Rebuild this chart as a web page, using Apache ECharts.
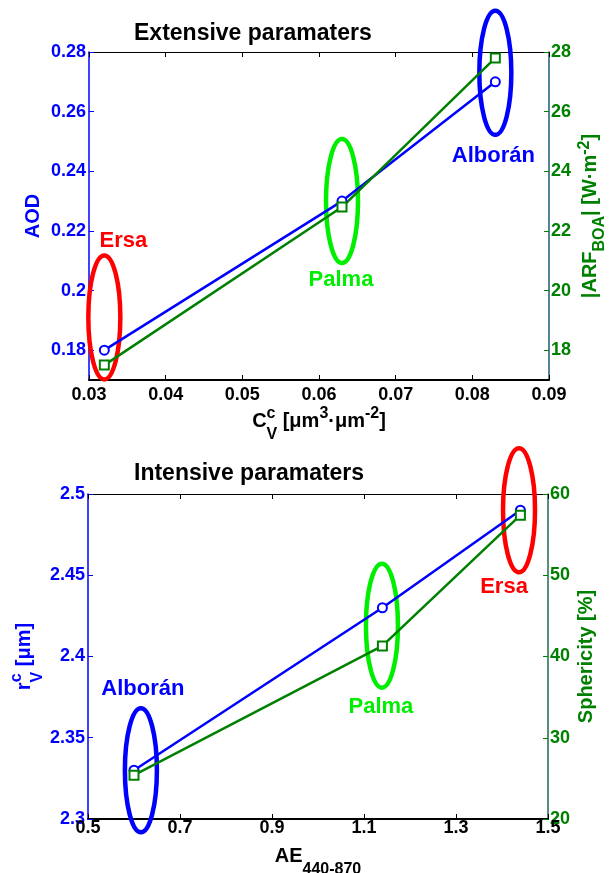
<!DOCTYPE html>
<html>
<head>
<meta charset="utf-8">
<script src="https://cdn.jsdelivr.net/npm/echarts@6/dist/echarts.min.js"></script>
<style>
  html, body { margin: 0; padding: 0; background: #fff; }
  #chart { width: 609px; height: 873px; }
</style>
</head>
<body>
<div id="chart"></div>
<script>
// extensive parameters (top panel)
var extCv = [0.032, 0.063, 0.083];
var extAod = [0.18, 0.23, 0.27];
var extArf = [17.5, 22.8, 27.8];
var extSites = ['Ersa', 'Palma', 'Alborán'];
var extRingX = [0.032, 0.063, 0.083];
var extRingY = [0.191, 0.23, 0.273];
var extXTicks = [0.03, 0.04, 0.05, 0.06, 0.07, 0.08, 0.09];
var extAodTicks = [0.18, 0.2, 0.22, 0.24, 0.26, 0.28];
var extArfTicks = [18, 20, 22, 24, 26, 28];

// intensive parameters (bottom panel)
var intAe = [0.6, 1.14, 1.44];
var intRv = [2.33, 2.43, 2.49];
var intSph = [25.4, 41.3, 57.4];
var intSites = ['Alborán', 'Palma', 'Ersa'];
var intRingX = [0.615, 1.139, 1.437];
var intRingY = [2.33, 2.419, 2.49];
var intXTicks = [0.5, 0.7, 0.9, 1.1, 1.3, 1.5];
var intRvTicks = [2.3, 2.35, 2.4, 2.45, 2.5];
var intSphTicks = [20, 30, 40, 50, 60];

var FONT = '"Liberation Sans", Arial, sans-serif';
var siteColor = { 'Ersa': '#ff0000', 'Palma': '#00ee00', 'Alborán': '#0000ff' };
// label offset from ring centre, px
var extLabelOff = [[19, -76], [-1, 79], [-2, 83]];
var intLabelOff = [[2, -81], [-1, 81], [-15, 77]];

var rich = {
  m: { fontSize: 20, fontWeight: 'bold', fontFamily: FONT, lineHeight: 28, verticalAlign: 'middle' },
  sup: { fontSize: 16, fontWeight: 'bold', fontFamily: FONT, verticalAlign: 'middle', padding: [0, 0, 14, 0] },
  sub: { fontSize: 16, fontWeight: 'bold', fontFamily: FONT, verticalAlign: 'middle', padding: [28, 0, 0, 0] },
  subk: { fontSize: 16, fontWeight: 'bold', fontFamily: FONT, verticalAlign: 'middle', padding: [28, 0, 0, -9] },
  supr: { fontSize: 16, fontWeight: 'bold', fontFamily: FONT, verticalAlign: 'middle', padding: [0, 0, 10, 0] },
  subr: { fontSize: 16, fontWeight: 'bold', fontFamily: FONT, verticalAlign: 'middle', padding: [20, 0, 0, 0] }
};

function valAxis(opt) {
  var color = opt.color;
  return {
    type: 'value',
    gridIndex: opt.grid,
    position: opt.position,
    min: opt.min,
    max: opt.max,
    name: opt.name,
    nameLocation: 'middle',
    nameGap: opt.nameGap,
    nameRotate: opt.nameRotate,
    nameMoveOverlap: false,
    nameTextStyle: { color: opt.nameColor || color, fontSize: 20, fontWeight: 'bold', fontFamily: FONT, rich: rich },
    axisLine: { show: true, onZero: false, lineStyle: { color: opt.lineColor || color, width: opt.lineWidth || 1.5 } },
    axisTick: { show: true, inside: true, length: 5, customValues: opt.ticks, lineStyle: { color: opt.tickColor || color, width: 1 } },
    axisLabel: {
      show: opt.labels !== false,
      customValues: opt.ticks,
      margin: opt.margin,
      color: color,
      fontSize: 18,
      fontWeight: 'bold',
      fontFamily: FONT
    },
    splitLine: { show: false }
  };
}

function ringSeries(xi, yi, xs, ys, names, offs) {
  return {
    type: 'custom',
    xAxisIndex: xi,
    yAxisIndex: yi,
    clip: false,
    z: 1,
    silent: true,
    data: xs.map(function (x, i) { return [x, ys[i], i]; }),
    renderItem: function (params, api) {
      var i = api.value(2),
        p = api.coord([api.value(0), api.value(1)]),
        c = siteColor[names[i]];
      return {
        type: 'group',
        children: [{
          type: 'ellipse',
          shape: { cx: p[0], cy: p[1], rx: 16, ry: 62 },
          style: { fill: 'none', stroke: c, lineWidth: 4.5 }
        }, {
          type: 'text',
          x: p[0] + offs[i][0],
          y: p[1] + offs[i][1],
          style: {
            text: names[i], fill: c, fontSize: 22, fontWeight: 'bold', fontFamily: FONT,
            align: 'center', verticalAlign: 'middle'
          }
        }]
      };
    }
  };
}

function lineSeries(xi, yi, xs, ys, color, symbol) {
  return {
    type: 'line',
    xAxisIndex: xi,
    yAxisIndex: yi,
    z: 3,
    data: xs.map(function (x, i) { return [x, ys[i]]; }),
    symbol: symbol,
    symbolSize: 9,
    lineStyle: { color: color, width: 2.5 },
    itemStyle: { color: color, borderColor: color, borderWidth: 2 },
    silent: true
  };
}

var myChart = echarts.init(document.getElementById('chart'), null, { renderer: 'canvas' });

var option = {
  backgroundColor: '#fff',
  animation: false,
  title: [{
    text: 'Extensive paramaters',
    left: 134, top: 22, padding: 0,
    textStyle: { fontSize: 23, fontWeight: 'bold', fontFamily: FONT, color: '#000' }
  }, {
    text: 'Intensive paramaters',
    left: 134, top: 462, padding: 0,
    textStyle: { fontSize: 23, fontWeight: 'bold', fontFamily: FONT, color: '#000' }
  }],
  grid: [
    { left: 89, right: 60, top: 52, height: 328, outerBoundsMode: 'none', containLabel: false },
    { left: 88, right: 61, top: 494, height: 325, outerBoundsMode: 'none', containLabel: false }
  ],
  xAxis: [
    valAxis({
      grid: 0, position: 'bottom', min: 0.03, max: 0.09, ticks: extXTicks, color: '#000', lineWidth: 2,
      margin: 6, nameGap: 19,
      name: '{m|C}{sup|c}{subk|V}{m| [μm}{sup|3}{m|·μm}{sup|-2}{m|]}'
    }),
    valAxis({ grid: 0, position: 'top', min: 0.03, max: 0.09, ticks: extXTicks, color: '#000', lineWidth: 1, labels: false }),
    valAxis({
      grid: 1, position: 'bottom', min: 0.5, max: 1.5, ticks: intXTicks, color: '#000', lineWidth: 2,
      margin: 0, nameGap: 15,
      name: '{m|AE}{sub|440-870}'
    }),
    valAxis({ grid: 1, position: 'top', min: 0.5, max: 1.5, ticks: intXTicks, color: '#000', lineWidth: 1, labels: false })
  ],
  yAxis: [
    valAxis({
      grid: 0, position: 'left', min: 0.17, max: 0.28, ticks: extAodTicks, color: '#0000ff',
      margin: 3, nameGap: 46, nameRotate: 90, name: 'AOD'
    }),
    valAxis({
      grid: 0, position: 'right', min: 17, max: 28, ticks: extArfTicks, color: '#008000', lineColor: '#1d5a78',
      margin: 2, nameGap: 23, nameRotate: 90,
      name: '{m||ARF}{subr|BOA}{m|| [W·m}{supr|-2}{m|]}'
    }),
    valAxis({
      grid: 1, position: 'left', min: 2.3, max: 2.5, ticks: intRvTicks, color: '#0000ff',
      margin: 3, nameGap: 42, nameRotate: 90,
      name: '{m|r}{sup|c}{subk|V}{m| [μm]}'
    }),
    valAxis({
      grid: 1, position: 'right', min: 20, max: 60, ticks: intSphTicks, color: '#008000', lineColor: '#1e6b4a',
      margin: 2, nameGap: 28, nameRotate: 90, name: 'Sphericity [%]'
    })
  ],
  series: [
    ringSeries(0, 0, extRingX, extRingY, extSites, extLabelOff),
    lineSeries(0, 0, extCv, extAod, '#0000ff', 'emptyCircle'),
    lineSeries(0, 1, extCv, extArf, '#008000', 'emptyRect'),
    ringSeries(2, 2, intRingX, intRingY, intSites, intLabelOff),
    lineSeries(2, 2, intAe, intRv, '#0000ff', 'emptyCircle'),
    lineSeries(2, 3, intAe, intSph, '#008000', 'emptyRect')
  ]
};

myChart.setOption(option, true);
</script>
</body>
</html>
